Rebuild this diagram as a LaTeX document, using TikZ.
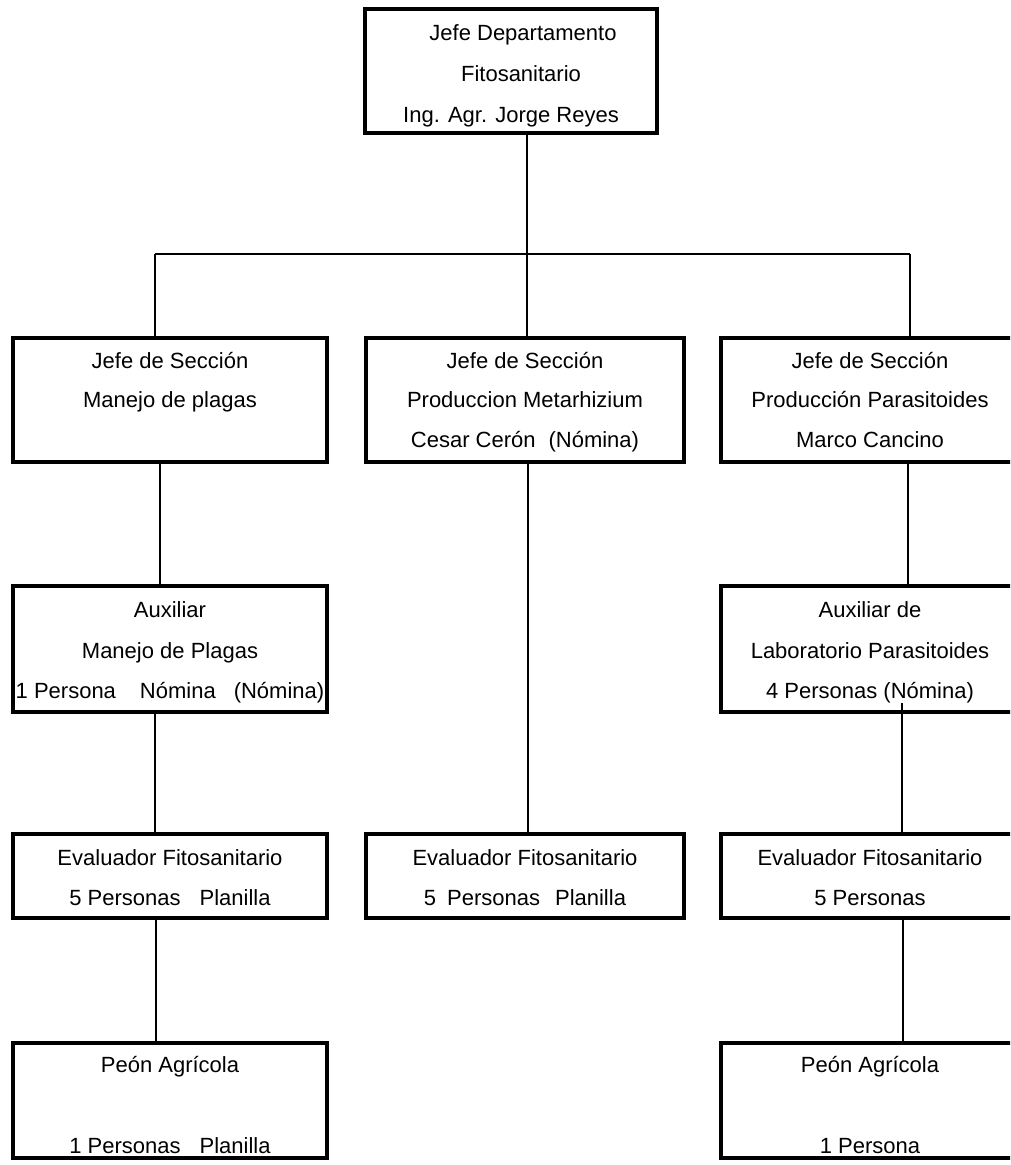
\documentclass[tikz,border=0pt]{standalone}
\usepackage{fontspec}
\setmainfont{Liberation Sans}
\begin{document}
\begin{tikzpicture}[x=1pt,y=-1pt,
  unit/.style args={#1/#2}{draw, line width=4pt, inner sep=0pt, outer sep=0pt,
    minimum width=#1pt, minimum height=#2pt},
  txt/.style={anchor=base, inner sep=0pt, font=\fontsize{22}{26}\selectfont},
  link/.style={line width=1.3pt}]
\useasboundingbox (0,0) rectangle (1010,1165);
\fill[white] (0,0) rectangle (1010,1165);
\clip (0,0) rectangle (1010,1165);

% boxes
\node[unit=292/124] (top) at (511,71) {};
\node[unit=314/124] (l2) at (170,400) {};
\node[unit=318/124] (m2) at (525,400) {};
\node[unit=298/124] (r2) at (870,400) {};
\node[unit=314/126] (l3) at (170,649) {};
\node[unit=298/126] (r3) at (870,649) {};
\node[unit=314/84] (l4) at (170,876) {};
\node[unit=318/84] (m4) at (525,876) {};
\node[unit=298/84] (r4) at (870,876) {};
\node[unit=314/115] (l5) at (170,1100.5) {};
\node[unit=298/115] (r5) at (870,1100.5) {};

% box texts
\node[txt] (top-a) at ([xshift=12pt,yshift=-31pt]top.north) {Jefe Departamento};
\node[txt] (top-b) at ([xshift=10pt,yshift=-72pt]top.north) {Fitosanitario};
\node[txt] (top-c) at ([yshift=-113pt]top.north) {Ing. Agr. Jorge Reyes};

\node[txt] (l2-a) at ([yshift=-30pt]l2.north) {Jefe de Sección};
\node[txt] (l2-b) at ([yshift=-69pt]l2.north) {Manejo de plagas};

\node[txt] (m2-a) at ([yshift=-30pt]m2.north) {Jefe de Sección};
\node[txt] (m2-b) at ([yshift=-69pt]m2.north) {Produccion Metarhizium};
\node[txt] (m2-c) at ([yshift=-109pt]m2.north) {Cesar Cerón\hspace{13pt}(Nómina)};

\node[txt] (r2-a) at ([yshift=-30pt]r2.north) {Jefe de Sección};
\node[txt] (r2-b) at ([yshift=-69pt]r2.north) {Producción Parasitoides};
\node[txt] (r2-c) at ([yshift=-109pt]r2.north) {Marco Cancino};

\node[txt] (l3-a) at ([yshift=-31pt]l3.north) {Auxiliar};
\node[txt] (l3-b) at ([yshift=-72pt]l3.north) {Manejo de Plagas};
\node[txt] (l3-c) at ([yshift=-112pt]l3.north) {1 Persona\hspace{24pt}Nómina\hspace{18pt}(Nómina)};

\node[txt] (r3-a) at ([yshift=-31pt]r3.north) {Auxiliar de};
\node[txt] (r3-b) at ([yshift=-72pt]r3.north) {Laboratorio Parasitoides};
\node[txt] (r3-c) at ([yshift=-112pt]r3.north) {4 Personas (Nómina)};

\node[txt] (l4-a) at ([yshift=-31pt]l4.north) {Evaluador Fitosanitario};
\node[txt] (l4-b) at ([yshift=-71pt]l4.north) {5 Personas\hspace{19pt}Planilla};

\node[txt] (m4-a) at ([yshift=-31pt]m4.north) {Evaluador Fitosanitario};
\node[txt] (m4-b) at ([yshift=-71pt]m4.north) {5\hspace{11pt}Personas\hspace{15pt}Planilla};

\node[txt] (r4-a) at ([yshift=-31pt]r4.north) {Evaluador Fitosanitario};
\node[txt] (r4-b) at ([yshift=-71pt]r4.north) {5 Personas};

\node[txt] (l5-a) at ([yshift=-29pt]l5.north) {Peón Agrícola};
\node[txt] (l5-b) at ([yshift=-110pt]l5.north) {1 Personas\hspace{19pt}Planilla};

\node[txt] (r5-a) at ([yshift=-29pt]r5.north) {Peón Agrícola};
\node[txt] (r5-b) at ([yshift=-110pt]r5.north) {1 Persona};

% connectors
\coordinate (hub) at (527,254);
\coordinate (hubl) at (155,254);
\coordinate (hubr) at (910,254);
\draw[link] (top.south -| hub) -- (hub);
\draw[link] (hubl) -- (hubr);
\draw[link] (hubl) -- (hubl |- l2.north);
\draw[link] (hub) -- (hub |- m2.north);
\draw[link] (hubr) -- (hubr |- r2.north);

\draw[link] ([xshift=-10pt]l2.south) -- ([xshift=-10pt]l3.north);
\draw[link] ([xshift=-15pt]l3.south) -- ([xshift=-15pt]l4.north);
\draw[link] ([xshift=-14pt]l4.south) -- ([xshift=-14pt]l5.north);

\draw[link] ([xshift=3pt]m2.south) -- ([xshift=3pt]m4.north);

\draw[link] ([xshift=38pt]r2.south) -- ([xshift=38pt]r3.north);
\draw[link] ([xshift=32pt,yshift=9pt]r3.south) -- ([xshift=32pt]r4.north);
\draw[link] ([xshift=33pt]r4.south) -- ([xshift=33pt]r5.north);
\end{tikzpicture}
\end{document}
